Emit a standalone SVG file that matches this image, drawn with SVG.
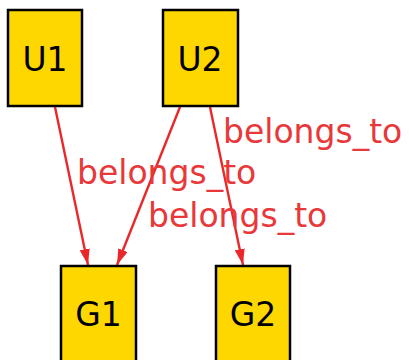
<svg xmlns="http://www.w3.org/2000/svg" width="409" height="360" viewBox="0 0 409 360">
  <style>
    .node rect { fill: #ffd700; stroke: #000000; stroke-width: 2.5; }
    .node text { font-family: "DejaVu Sans", sans-serif; font-size: 33px; fill: #000000; text-anchor: middle; }
    .edge line { stroke: #e8282a; stroke-width: 2.4; }
    .elabel { font-family: "DejaVu Sans", sans-serif; font-size: 33px; fill: #e8383a; }
  </style>
  <defs>
    <marker id="arrow" viewBox="0 0 16 10" refX="16" refY="5" markerUnits="userSpaceOnUse" markerWidth="16" markerHeight="10" orient="auto">
      <path d="M0,0 L16,5 L0,10 Z" fill="#e8282a"/>
    </marker>
  </defs>

  <!-- connectors -->
  <g id="edges" class="edge">
    <line x1="55" y1="107" x2="88" y2="265" marker-end="url(#arrow)"/>
    <line x1="180" y1="107" x2="117" y2="265" marker-end="url(#arrow)"/>
    <line x1="210" y1="107" x2="243" y2="265" marker-end="url(#arrow)"/>
    <text class="elabel" x="77" y="184">belongs_to</text>
    <text class="elabel" x="223" y="143">belongs_to</text>
    <text class="elabel" x="148" y="227">belongs_to</text>
  </g>

  <!-- nodes -->
  <g id="U1" class="node">
    <rect x="8" y="10" width="74" height="96"/>
    <text x="45" y="71">U1</text>
  </g>
  <g id="U2" class="node">
    <rect x="163" y="10" width="75" height="96"/>
    <text x="200" y="71">U2</text>
  </g>
  <g id="G1" class="node">
    <rect x="61" y="266" width="75" height="100"/>
    <text x="98.5" y="326">G1</text>
  </g>
  <g id="G2" class="node">
    <rect x="216" y="266" width="74" height="100"/>
    <text x="253" y="326">G2</text>
  </g>
</svg>
